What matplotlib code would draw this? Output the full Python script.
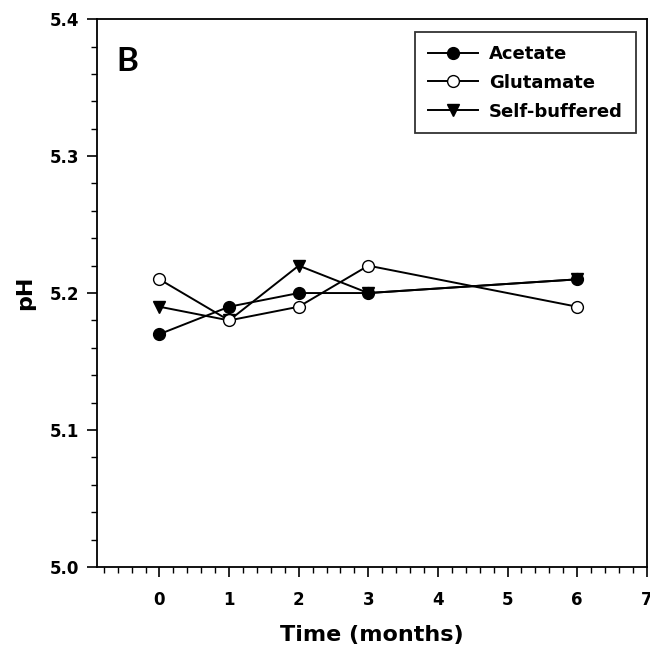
import matplotlib
matplotlib.use("Agg")
import matplotlib.pyplot as plt
from matplotlib.ticker import MultipleLocator

plt.rcParams['font.family'] = ['DejaVu Sans']
plt.rcParams['font.weight'] = 'bold'

months = [0, 1, 2, 3, 6]
acetate = [5.17, 5.19, 5.20, 5.20, 5.21]
glutamate = [5.21, 5.18, 5.19, 5.22, 5.19]
self_buffered = [5.19, 5.18, 5.22, 5.20, 5.21]

fig = plt.figure(figsize=(6.5, 6.6), dpi=100)
ax = fig.add_axes([0.149, 0.141, 0.846, 0.830])

ax.plot(months, acetate, color="black", lw=1.4, marker="o", ms=8.5,
        mfc="black", mec="black", label="Acetate", zorder=4)
ax.plot(months, glutamate, color="black", lw=1.4, marker="o", ms=8.5,
        mfc="white", mec="black", label="Glutamate", zorder=3)
ax.plot(months, self_buffered, color="black", lw=1.4, marker="v", ms=8.5,
        mfc="black", mec="black", label="Self-buffered", zorder=2)

ax.set_xlim(-0.9, 7)
ax.set_ylim(5.0, 5.4)
ax.xaxis.set_major_locator(MultipleLocator(1))
ax.xaxis.set_minor_locator(MultipleLocator(0.2))
ax.yaxis.set_major_locator(MultipleLocator(0.1))
ax.yaxis.set_minor_locator(MultipleLocator(0.02))
ax.yaxis.set_major_formatter(matplotlib.ticker.FormatStrFormatter("%.1f"))
ax.tick_params(which="major", direction="out", length=7, width=1.2,
               labelsize=12, pad=10)
ax.tick_params(which="minor", direction="out", length=4, width=1)
ax.tick_params(axis="y", which="major", pad=6)

for s in ax.spines.values():
    s.set_linewidth(1.3)

ax.set_xlabel("Time (months)", fontsize=16, fontweight="bold", labelpad=12)
ax.set_ylabel("pH", fontsize=16, fontweight="bold", labelpad=10)

ax.text(0.036, 0.905, "B", transform=ax.transAxes, fontsize=24,
        fontfamily=["Lato", "DejaVu Sans"], fontweight="bold",
        va="baseline", ha="left")

leg = ax.legend(loc="upper right", bbox_to_anchor=(0.98, 0.976),
                prop={"weight": "bold", "size": 13},
                frameon=True, fancybox=False, edgecolor="black",
                handlelength=2.8, borderpad=0.7, labelspacing=0.6,
                handletextpad=0.6, borderaxespad=0)
leg.get_frame().set_linewidth(1.3)

fig.savefig("out.png", dpi=100)
